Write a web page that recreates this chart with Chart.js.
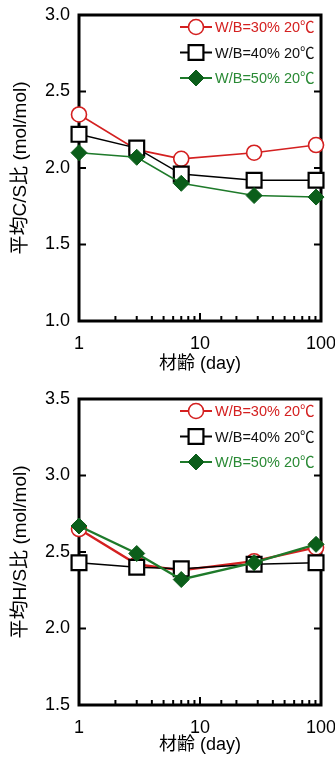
<!DOCTYPE html>
<html><head><meta charset="utf-8">
<script src="https://cdn.jsdelivr.net/npm/chart.js@4.4.0/dist/chart.umd.min.js"></script>
<style>
html,body{margin:0;padding:0;background:#fff;}
#w1{position:absolute;left:0;top:0;width:335px;height:381px;}
#w2{position:absolute;left:0;top:381px;width:335px;height:381px;}
</style></head>
<body>
<div id="w1"><canvas id="c1" width="335" height="381"></canvas></div>
<div id="w2"><canvas id="c2" width="335" height="381"></canvas></div>
<script>
// ---- data ----
const days = [1, 3, 7, 28, 91];
const seriesLabels = ['W/B=30% 20℃', 'W/B=40% 20℃', 'W/B=50% 20℃'];
const csW30 = [2.35, 2.12, 2.06, 2.10, 2.15];
const csW40 = [2.22, 2.13, 1.96, 1.92, 1.92];
const csW50 = [2.10, 2.07, 1.90, 1.82, 1.81];
const hsW30 = [2.65, 2.42, 2.38, 2.44, 2.53];
const hsW40 = [2.43, 2.40, 2.39, 2.42, 2.43];
const hsW50 = [2.67, 2.49, 2.32, 2.43, 2.55];
const xTickLabels = [1, 10, 100];
const xTitle = '材齢 (day)';
const yTitleCS = '平均C/S比 (mol/mol)';
const yTitleHS = '平均H/S比 (mol/mol)';

const FONT = '"Liberation Sans", Arial, "Noto Sans CJK JP", sans-serif';
const RED = '#d42020', BLACK = '#000000', GREEN_LINE = '#1e7a2a', GREEN_FILL = '#0b5e1a', GREEN_TEXT = '#2a8a35';

const styles = [
  {color: RED, textColor: RED, pointStyle: 'circle', radius: 7.5, bg: '#ffffff', bw: 1.6, order: 2},
  {color: BLACK, textColor: '#111', pointStyle: 'rect', radius: 10.5, bg: '#ffffff', bw: 2.2, order: 1},
  {color: GREEN_LINE, textColor: GREEN_TEXT, pointStyle: 'rectRot', radius: 8, bg: GREEN_FILL, bw: 1, order: 0, border: GREEN_FILL}
];

const framePlugin = {
  id: 'frame',
  beforeDatasetsDraw(chart) {
    const {ctx, chartArea: a, scales} = chart;
    ctx.save();
    ctx.strokeStyle = '#000';
    ctx.lineWidth = 2;
    const xs = scales.x;
    xs.ticks.forEach(t => {
      const px = xs.getPixelForValue(t.value);
      const lg = Math.log10(t.value);
      const major = Math.abs(lg - Math.round(lg)) < 1e-9;
      const len = major ? 8 : 5;
      ctx.beginPath(); ctx.moveTo(px, a.bottom); ctx.lineTo(px, a.bottom - len); ctx.stroke();
    });
    const ys = scales.y;
    ys.ticks.forEach(t => {
      const py = ys.getPixelForValue(t.value);
      ctx.beginPath(); ctx.moveTo(a.left, py); ctx.lineTo(a.left + 7, py); ctx.stroke();
      ctx.beginPath(); ctx.moveTo(a.right, py); ctx.lineTo(a.right - 7, py); ctx.stroke();
    });
    ctx.lineWidth = 3;
    ctx.strokeRect(a.left, a.top, a.right - a.left, a.bottom - a.top);
    ctx.restore();
  }
};

const legendPlugin = {
  id: 'customLegend',
  afterDraw(chart) {
    const {ctx, chartArea: a} = chart;
    ctx.save();
    chart.data.datasets.slice().sort((p, q) => p.legendIndex - q.legendIndex).forEach((ds, i) => {
      const y = a.top + 12 + i * 25.5;
      const x0 = 180, x1 = 212, xm = 196;
      ctx.strokeStyle = ds.borderColor; ctx.lineWidth = 2;
      ctx.beginPath(); ctx.moveTo(x0, y); ctx.lineTo(x1, y); ctx.stroke();
      ctx.fillStyle = ds.pointBackgroundColor; ctx.strokeStyle = ds.pointBorderColor; ctx.lineWidth = ds.pointBorderWidth;
      ctx.beginPath();
      Chart.helpers.drawPoint(ctx, {pointStyle: ds.pointStyle, radius: ds.pointRadius, borderWidth: ds.pointBorderWidth}, xm, y);
      ctx.fillStyle = ds.legendTextColor;
      ctx.font = '14.5px ' + FONT;
      ctx.textAlign = 'left'; ctx.textBaseline = 'middle';
      ctx.fillText(ds.label, 215, y + 1);
    });
    ctx.restore();
  }
};

function makeChart(id, ys, yMin, yMax, yTitle, padTop, xH, lw) {
  const datasets = ys.map((vals, i) => {
    const s = styles[i];
    return {
      label: seriesLabels[i],
      legendIndex: i,
      legendTextColor: s.textColor,
      data: days.map((d, k) => ({x: d, y: vals[k]})),
      showLine: true,
      clip: false,
      borderColor: s.color,
      borderWidth: i === 1 ? 1.5 : lw,
      pointStyle: s.pointStyle,
      pointRadius: s.radius,
      pointHoverRadius: s.radius,
      pointBackgroundColor: s.bg,
      pointBorderColor: s.border || s.color,
      pointBorderWidth: s.bw,
      order: s.order
    };
  });
  return new Chart(document.getElementById(id), {
    type: 'scatter',
    data: {datasets},
    options: {
      responsive: false, animation: false,
      layout: {padding: {left: 0, right: 14, top: padTop, bottom: 0}},
      plugins: {legend: {display: false}, tooltip: {enabled: false}},
      scales: {
        x: {
          type: 'logarithmic', min: 1, max: 100,
          grid: {display: false, drawTicks: false},
          border: {display: false},
          ticks: {
            autoSkip: false, maxRotation: 0, padding: 12,
            color: '#000', font: {family: FONT, size: 18},
            callback: v => xTickLabels.includes(v) ? String(v) : ''
          },
          title: {display: true, text: xTitle, color: '#000', font: {family: FONT, size: 18}, padding: {top: 0, bottom: 6}},
          afterFit: s => { s.height = xH; s.paddingLeft = 0; s.paddingRight = 0; }
        },
        y: {
          min: yMin, max: yMax,
          grid: {display: false, drawTicks: false},
          border: {display: false},
          ticks: {stepSize: 0.5, padding: 9, color: '#000', font: {family: FONT, size: 18}, callback: v => v.toFixed(1)},
          title: {display: true, text: yTitle, color: '#000', font: {family: FONT, size: 19}, padding: {top: 9, bottom: 0}},
          afterFit: s => { s.width = 79; s.paddingTop = 0; s.paddingBottom = 0; }
        }
      }
    },
    plugins: [framePlugin, legendPlugin]
  });
}

makeChart('c1', [csW30, csW40, csW50], 1.0, 3.0, yTitleCS, 15, 60, 1.6);
makeChart('c2', [hsW30, hsW40, hsW50], 1.5, 3.5, yTitleHS, 18, 57, 2.4);
</script>
</body></html>
